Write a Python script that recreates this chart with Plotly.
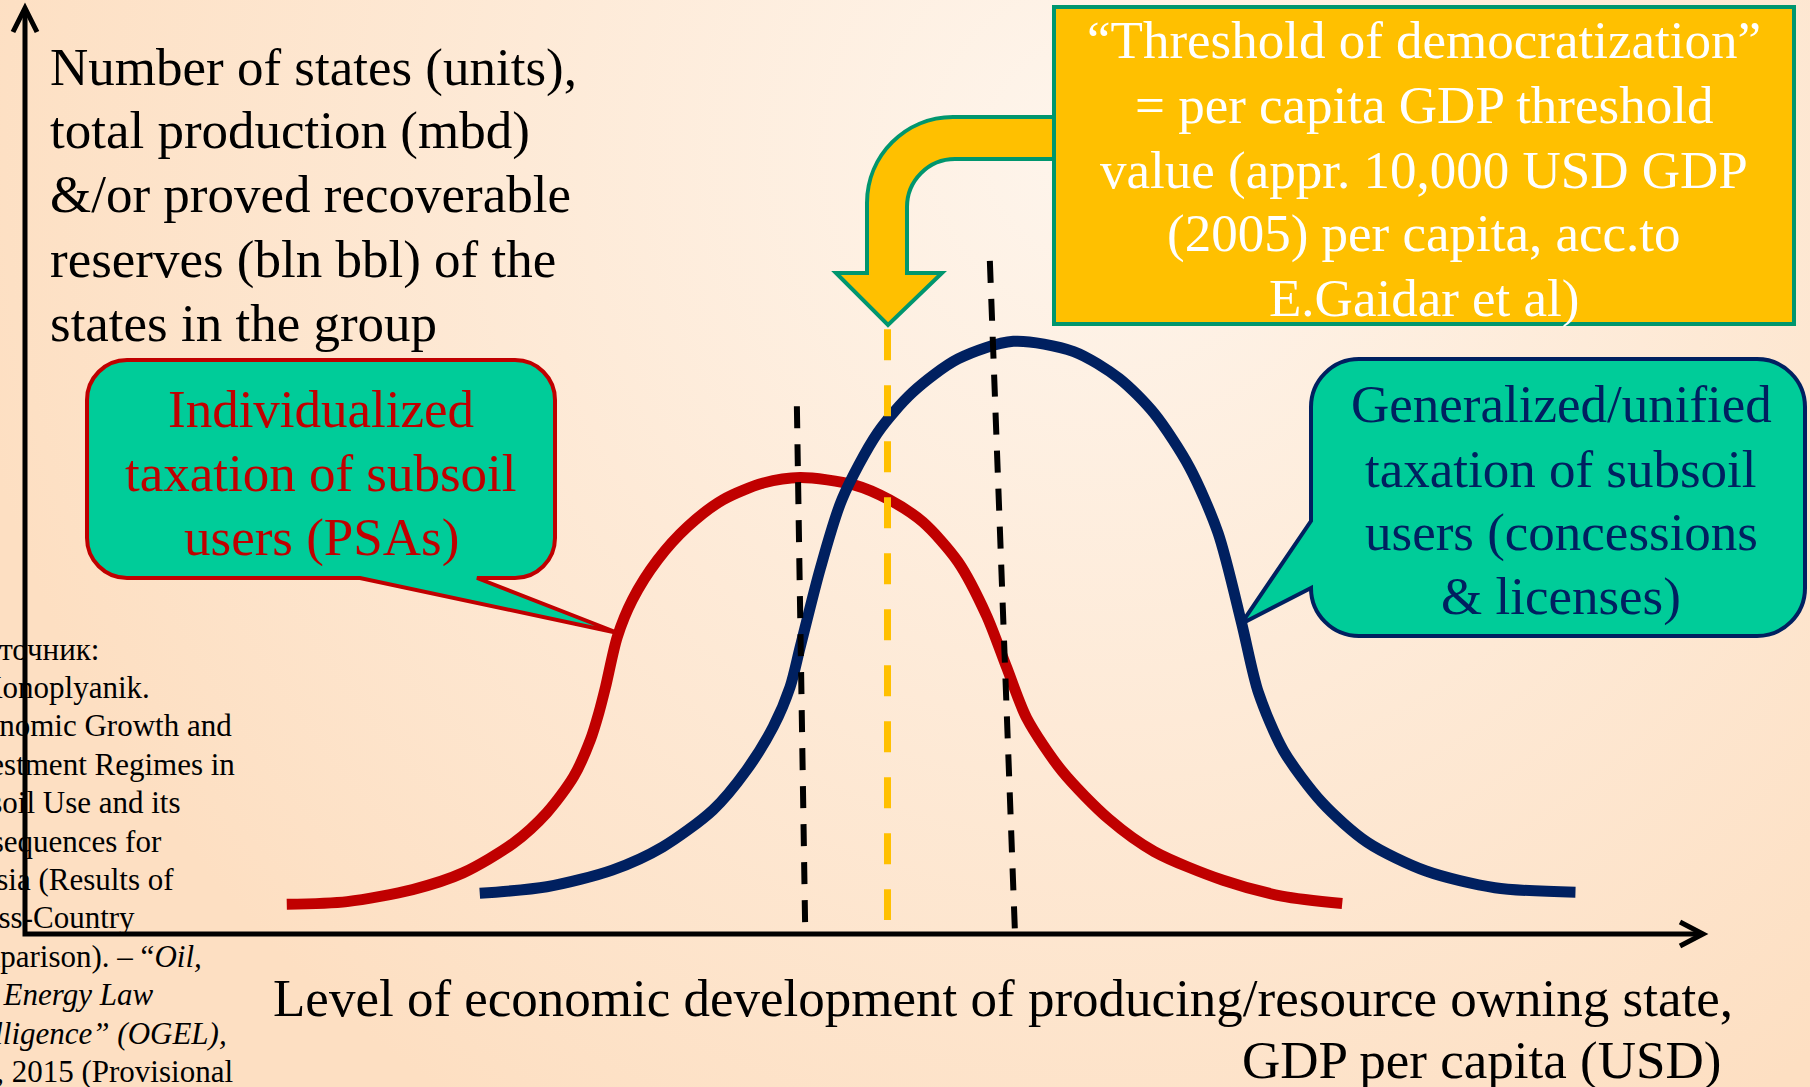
import base64
import plotly.graph_objects as go

# ----------------------------
# DATA (schematic units, 0..100 along each axis arrow)
# ----------------------------

# individualized taxation (PSAs) - red bell
psa_x = [15.6, 19.2, 23.1, 26.1, 29.1, 31.1, 32.7, 33.7, 34.2, 34.6, 35.3, 36.2, 37.7,
         39.5, 41.6, 44.0, 46.2, 49.4, 51.5, 53.5, 55.6, 57.3, 58.5, 59.7, 61.8, 64.6,
         67.3, 71.4, 74.9, 78.5]
psa_y = [3.2, 3.5, 4.8, 6.6, 9.8, 13.1, 17.0, 21.0, 23.9, 26.7, 32.1, 36.1, 40.4,
         44.0, 46.9, 48.7, 49.3, 48.5, 46.9, 44.5, 40.2, 34.4, 28.8, 23.3, 17.6, 12.4,
         8.9, 5.8, 4.1, 3.3]

# generalized/unified taxation (concessions & licenses) - blue bell
lic_x = [27.1, 31.1, 35.0, 38.0, 41.0, 43.0, 44.6, 45.6, 46.2, 47.4, 48.7, 50.8, 52.9, 55.6,
         58.9, 62.5, 65.2, 67.3, 69.4, 71.1, 72.5, 73.5, 75.0, 77.3, 80.0, 83.5, 87.6, 92.4]
lic_y = [4.4, 5.1, 6.9, 9.4, 13.4, 17.7, 22.4, 26.7, 31.0, 39.5, 47.0, 54.1, 58.5, 62.1,
         64.0, 62.9, 60.0, 56.2, 50.4, 43.3, 33.6, 26.1, 19.8, 14.2, 9.9, 6.8, 5.0, 4.5]

# transition zone borders (black dashed) and democratization threshold (yellow dashed)
zone_lo_x = [46.0, 46.5]
zone_lo_y = [57.0, 0.0]
zone_hi_x = [57.5, 59.0]
zone_hi_y = [72.7, 0.0]
threshold_x = [51.4, 51.4]
threshold_y = [65.3, 1.5]

# texts
y_title = ["Number of states (units),", "total production (mbd)",
           "&/or proved recoverable", "reserves (bln bbl) of the",
           "states in the group"]
x_title = ["Level of economic development of producing/resource owning state,",
           "GDP per capita (USD)"]
box_lines = ["“Threshold of democratization”", "= per capita GDP threshold",
             "value (appr. 10,000 USD GDP", "(2005) per capita, acc.to",
             "E.Gaidar et al)"]
psa_lines = ["Individualized", "taxation of subsoil", "users (PSAs)"]
lic_lines = ["Generalized/unified", "taxation of subsoil",
             "users (concessions", "& licenses)"]
source_lines = ["Источник:", "A.Konoplyanik.", "Economic Growth and",
                "Investment Regimes in", "Subsoil Use and its", "Consequences for",
                "Russia (Results of", "Cross-Country", "Comparison). – “<i>Oil,</i>",
                "<i>Gas & Energy Law</i>", "<i>Intelligence” (OGEL),</i>",
                "v.13, 2015 (Provisional"]

# ----------------------------
# LAYOUT HELPERS (pixel frame of the 1810x1087 page)
# ----------------------------

W, H = 1810, 1087
X0, X1 = 25, 1703   # y-axis line / x-arrow tip
Y0, Y1 = 934, 8     # x-axis line / y-arrow tip
sx = (X1 - X0) / 100
sy = (Y0 - Y1) / 100

SERIF = "Liberation Serif, Times New Roman, serif"
RED = "#C00000"
NAVY = "#002060"
TEAL = "#00CC99"
GOLD = "#FFC000"
GREEN = "#00966E"


def paper(px, py):
    return px / W, 1 - py / H


def path(cmds, close=True):
    out = []
    for c in cmds:
        pts = " ".join("%.5f,%.5f" % paper(x, y) for x, y in c[1:])
        out.append(c[0] + pts)
    return " ".join(out) + (" Z" if close else "")


def callout(x0, y0, x1, y1, r, side, b1, b2, tip):
    k = 0.5523 * r
    c = [("M", (x0 + r, y0)), ("L", (x1 - r, y0)),
         ("C", (x1 - r + k, y0), (x1, y0 + r - k), (x1, y0 + r)),
         ("L", (x1, y1 - r)),
         ("C", (x1, y1 - r + k), (x1 - r + k, y1), (x1 - r, y1))]
    if side == "bottom":
        c += [("L", (b2, y1)), ("L", tip), ("L", (b1, y1))]
    c += [("L", (x0 + r, y1)),
          ("C", (x0 + r - k, y1), (x0, y1 - r + k), (x0, y1 - r))]
    if side == "left":
        c += [("L", (x0, b2)), ("L", tip), ("L", (x0, b1))]
    c += [("L", (x0, y0 + r)),
          ("C", (x0, y0 + r - k), (x0 + r - k, y0), (x0 + r, y0))]
    return path(c)


def label(s, px, py, size=53, color="black", anchor="left"):
    x, y = paper(px, py)
    return dict(text=s, x=x, y=y, xref="paper", yref="paper", xanchor=anchor,
                yanchor="middle", showarrow=False, align=anchor,
                font=dict(family=SERIF, size=size, color=color))


# ----------------------------
# FIGURE
# ----------------------------

fig = go.Figure()

fig.add_trace(go.Scatter(x=psa_x, y=psa_y, mode="lines", hoverinfo="skip",
                         line=dict(color=RED, width=11, shape="spline", smoothing=0.8)))
fig.add_trace(go.Scatter(x=lic_x, y=lic_y, mode="lines", hoverinfo="skip",
                         line=dict(color=NAVY, width=11, shape="spline", smoothing=0.8)))
for xs, ys in [(zone_lo_x, zone_lo_y), (zone_hi_x, zone_hi_y)]:
    fig.add_trace(go.Scatter(x=xs, y=ys, mode="lines", hoverinfo="skip",
                             line=dict(color="black", width=6, dash="22px,16px")))
fig.add_trace(go.Scatter(x=threshold_x, y=threshold_y, mode="lines", hoverinfo="skip",
                         line=dict(color=GOLD, width=7, dash="31px,25px")))

shapes = []

# bent arrow from the threshold box down to the yellow line
arrow = [("M", (1056, 117)), ("L", (953, 117)),
         ("C", (905.5, 117), (867, 155.5), (867, 203)),
         ("L", (867, 273)), ("L", (836, 273)), ("L", (888, 325)),
         ("L", (942, 273)), ("L", (907, 273)), ("L", (907, 207)),
         ("C", (907, 180.5), (928.5, 159), (955, 159)), ("L", (1056, 159))]
shapes.append(dict(type="path", xref="paper", yref="paper", layer="below",
                   path=path(arrow), fillcolor=GOLD, line=dict(color=GREEN, width=4)))

bx0, by0 = paper(1054, 7)
bx1, by1 = paper(1794, 324)
shapes.append(dict(type="rect", xref="paper", yref="paper", layer="below",
                   x0=bx0, y0=by0, x1=bx1, y1=by1,
                   fillcolor=GOLD, line=dict(color=GREEN, width=4)))

shapes.append(dict(type="path", xref="paper", yref="paper", layer="below",
                   path=callout(87, 360, 555, 578, 40, "bottom", 360, 477, (618, 633)),
                   fillcolor=TEAL, line=dict(color=RED, width=4)))
shapes.append(dict(type="path", xref="paper", yref="paper", layer="below",
                   path=callout(1311, 359, 1805, 636, 48, "left", 521, 588, (1241, 624)),
                   fillcolor=TEAL, line=dict(color=NAVY, width=4)))

# axis arrows
shapes.append(dict(type="path", xref="paper", yref="paper", layer="above",
                   path=path([("M", (X0, Y1 + 2)), ("L", (X0, Y0)), ("L", (X1 - 2, Y0))], close=False),
                   line=dict(color="black", width=5)))
shapes.append(dict(type="path", xref="paper", yref="paper", layer="above",
                   path=path([("M", (13, 32)), ("L", (X0, Y1)), ("L", (37, 32))], close=False),
                   line=dict(color="black", width=5)))
shapes.append(dict(type="path", xref="paper", yref="paper", layer="above",
                   path=path([("M", (1680, 922)), ("L", (X1, Y0)), ("L", (1680, 946))], close=False),
                   line=dict(color="black", width=5)))

annotations = []
for i, s in enumerate(y_title):
    annotations.append(label(s, 48, [67, 130, 194, 259, 323][i]))
annotations.append(label(x_title[0], 271, 998))
annotations.append(label(x_title[1], 1723, 1060, anchor="right"))
for i, s in enumerate(box_lines):
    annotations.append(label(s, 1424, [40, 105, 170, 233, 298][i], color="white", anchor="center"))
for i, s in enumerate(psa_lines):
    annotations.append(label(s, 321, [409, 473, 537][i], color=RED, anchor="center"))
for i, s in enumerate(lic_lines):
    annotations.append(label(s, 1561, [404, 469, 532, 596][i], color=NAVY, anchor="center"))
source_left = [-39, -52, -51, -53, -60, -62, -54, -50, -62, -88, -57, -58]
for i, s in enumerate(source_lines):
    annotations.append(label(s, source_left[i], 649 + 38.4 * i, size=31))

# soft peach radial background
svg = ('<svg xmlns="http://www.w3.org/2000/svg" width="1810" height="1087">'
       '<defs><radialGradient id="g" gradientUnits="userSpaceOnUse" cx="1100" cy="150" r="1150">'
       '<stop offset="0" stop-color="#FEF5EC"/><stop offset="1" stop-color="#FDDFC2"/>'
       '</radialGradient></defs><rect width="1810" height="1087" fill="url(#g)"/></svg>')
bg = "data:image/svg+xml;base64," + base64.b64encode(svg.encode()).decode()

fig.update_layout(
    width=W, height=H,
    margin=dict(l=0, r=0, t=0, b=0),
    paper_bgcolor="#FDE2C6",
    plot_bgcolor="rgba(0,0,0,0)",
    showlegend=False,
    xaxis=dict(range=[(0 - X0) / sx, (W - X0) / sx], visible=False, fixedrange=True),
    yaxis=dict(range=[(Y0 - H) / sy, Y0 / sy], visible=False, fixedrange=True),
    shapes=shapes,
    annotations=annotations,
    images=[dict(source=bg, xref="paper", yref="paper", x=0, y=1, sizex=1, sizey=1,
                 xanchor="left", yanchor="top", sizing="stretch", layer="below")],
)

# page body has a default 8px margin; drop it so the figure fills the window
fig.write_html("out.html", config={"displayModeBar": False},
               post_script="document.body.style.margin='0';document.body.style.overflow='hidden';")
